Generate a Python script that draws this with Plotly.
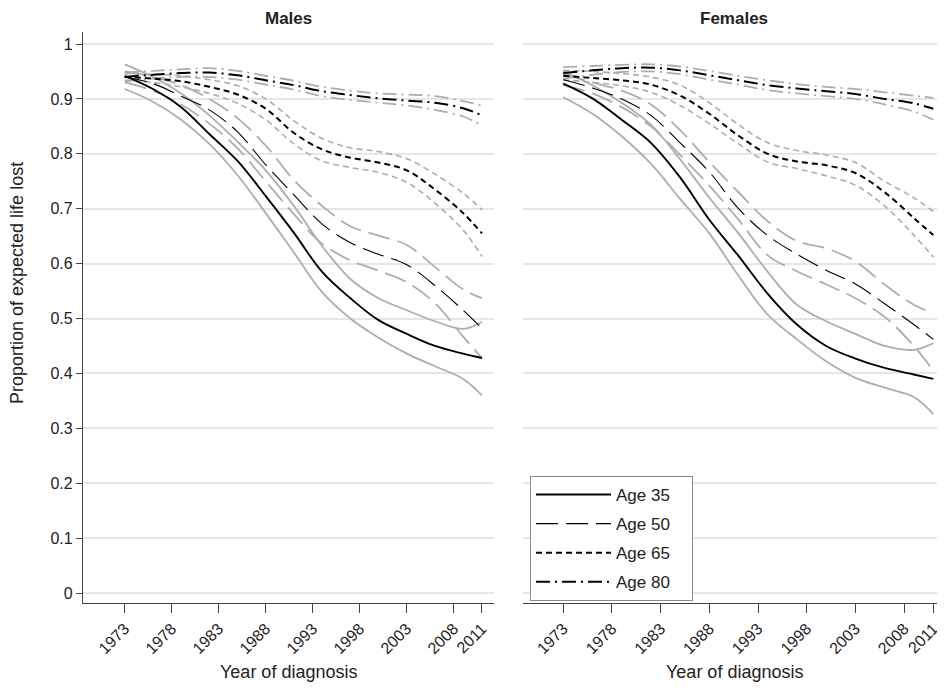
import plotly.graph_objects as go

years = [1973, 1976, 1979, 1982, 1985, 1988, 1991, 1994, 1997, 2000, 2003, 2006, 2009, 2011]
tick_years = [1973, 1978, 1983, 1988, 1993, 1998, 2003, 2008, 2011]
y_ticks = [0, 0.1, 0.2, 0.3, 0.4, 0.5, 0.6, 0.7, 0.8, 0.9, 1]
y_tick_text = ["0", "0.1", "0.2", "0.3", "0.4", "0.5", "0.6", "0.7", "0.8", "0.9", "1"]
ages = ["Age 35", "Age 50", "Age 65", "Age 80"]
panels = ["Males", "Females"]

# Males
m35 = [0.942, 0.918, 0.885, 0.836, 0.787, 0.723, 0.656, 0.585, 0.537, 0.497, 0.472, 0.45, 0.436, 0.428]
m35_lo = [0.918, 0.895, 0.862, 0.818, 0.761, 0.692, 0.62, 0.548, 0.5, 0.465, 0.436, 0.413, 0.39, 0.36]
m35_hi = [0.963, 0.94, 0.91, 0.87, 0.822, 0.77, 0.705, 0.632, 0.572, 0.537, 0.515, 0.495, 0.481, 0.494]
m50 = [0.94, 0.928, 0.905, 0.88, 0.84, 0.78, 0.725, 0.672, 0.638, 0.617, 0.598, 0.56, 0.515, 0.482]
m50_hi = [0.95, 0.94, 0.925, 0.90, 0.865, 0.815, 0.752, 0.705, 0.668, 0.651, 0.634, 0.594, 0.553, 0.537]
m50_lo = [0.93, 0.915, 0.89, 0.855, 0.81, 0.75, 0.69, 0.636, 0.606, 0.587, 0.566, 0.528, 0.467, 0.428]
m65 = [0.94, 0.937, 0.932, 0.922, 0.908, 0.882, 0.838, 0.808, 0.793, 0.784, 0.77, 0.735, 0.692, 0.655]
m65_hi = [0.946, 0.945, 0.942, 0.935, 0.924, 0.9, 0.86, 0.828, 0.811, 0.804, 0.791, 0.763, 0.728, 0.698]
m65_lo = [0.934, 0.93, 0.922, 0.91, 0.892, 0.862, 0.818, 0.787, 0.775, 0.766, 0.748, 0.71, 0.661, 0.613]
m80 = [0.94, 0.944, 0.947, 0.948, 0.943, 0.934, 0.925, 0.914, 0.907, 0.901, 0.897, 0.893, 0.883, 0.87]
m80_hi = [0.948, 0.951, 0.954, 0.956, 0.951, 0.942, 0.933, 0.922, 0.915, 0.91, 0.908, 0.905, 0.896, 0.888]
m80_lo = [0.932, 0.937, 0.94, 0.94, 0.935, 0.926, 0.917, 0.905, 0.898, 0.893, 0.888, 0.88, 0.868, 0.852]

# Females
f35 = [0.928, 0.901, 0.862, 0.82, 0.757, 0.68, 0.614, 0.545, 0.489, 0.45, 0.427, 0.41, 0.398, 0.39]
f35_lo = [0.903, 0.873, 0.832, 0.782, 0.718, 0.655, 0.578, 0.507, 0.462, 0.422, 0.392, 0.374, 0.357, 0.326]
f35_hi = [0.95, 0.925, 0.893, 0.853, 0.79, 0.72, 0.655, 0.585, 0.525, 0.495, 0.472, 0.45, 0.443, 0.455]
f50 = [0.935, 0.92, 0.9, 0.87, 0.82, 0.767, 0.70, 0.651, 0.617, 0.588, 0.563, 0.527, 0.489, 0.462]
f50_hi = [0.945, 0.93, 0.915, 0.89, 0.843, 0.785, 0.73, 0.677, 0.641, 0.628, 0.604, 0.562, 0.525, 0.51]
f50_lo = [0.925, 0.91, 0.885, 0.85, 0.798, 0.742, 0.68, 0.615, 0.586, 0.562, 0.537, 0.503, 0.45, 0.405]
f65 = [0.942, 0.938, 0.934, 0.926, 0.906, 0.873, 0.833, 0.8, 0.786, 0.779, 0.765, 0.73, 0.683, 0.652]
f65_hi = [0.952, 0.95, 0.946, 0.94, 0.925, 0.893, 0.853, 0.82, 0.806, 0.798, 0.784, 0.75, 0.72, 0.695]
f65_lo = [0.935, 0.93, 0.924, 0.912, 0.888, 0.855, 0.818, 0.785, 0.773, 0.76, 0.743, 0.705, 0.652, 0.612]
f80 = [0.947, 0.952, 0.956, 0.957, 0.952, 0.943, 0.934, 0.925, 0.919, 0.914, 0.909, 0.9, 0.892, 0.882]
f80_hi = [0.958, 0.96, 0.962, 0.963, 0.959, 0.951, 0.942, 0.934, 0.927, 0.922, 0.918, 0.912, 0.906, 0.902]
f80_lo = [0.937, 0.944, 0.949, 0.95, 0.945, 0.935, 0.926, 0.916, 0.91, 0.905, 0.9, 0.89, 0.877, 0.862]

data = {
    "Males": {"Age 35": (m35, m35_lo, m35_hi), "Age 50": (m50, m50_lo, m50_hi),
              "Age 65": (m65, m65_lo, m65_hi), "Age 80": (m80, m80_lo, m80_hi)},
    "Females": {"Age 35": (f35, f35_lo, f35_hi), "Age 50": (f50, f50_lo, f50_hi),
                "Age 65": (f65, f65_lo, f65_hi), "Age 80": (f80, f80_lo, f80_hi)},
}

styles = {
    "Age 35": dict(dash="solid", bw=1.9, gw=1.8),
    "Age 50": dict(dash="22px,8px", bw=1.1, gw=1.8),
    "Age 65": dict(dash="6px,4px", bw=2.0, gw=1.6),
    "Age 80": dict(dash="14px,5px,2px,5px", bw=2.0, gw=1.8),
}
GREY = "#adadad"
FONT = "Liberation Sans, Arial, sans-serif"

fig = go.Figure()
for pi, panel in enumerate(panels):
    xa = "x" if pi == 0 else "x2"
    ya = "y" if pi == 0 else "y2"
    for age in ages:
        mid, lo, hi = data[panel][age]
        st = styles[age]
        for band in (lo, hi):
            fig.add_trace(go.Scatter(x=years, y=band, mode="lines", xaxis=xa, yaxis=ya,
                                     line=dict(color=GREY, width=st["gw"], dash=st["dash"],
                                               shape="spline", smoothing=1.0),
                                     legendgroup=age, showlegend=False, hoverinfo="skip"))
    for age in ages:
        mid, lo, hi = data[panel][age]
        st = styles[age]
        fig.add_trace(go.Scatter(x=years, y=mid, mode="lines", xaxis=xa, yaxis=ya,
                                 name=age + "\u2003", legendgroup=age,
                                 line=dict(color="black", width=st["bw"], dash=st["dash"],
                                           shape="spline", smoothing=1.0),
                                 showlegend=(pi == 0)))

# page has an 8px body margin: figure coords = viewport coords - 8
OFF = 8
W, H = 945, 693
L, T = 83 - OFF, 32 - OFF
R = W - (945 - OFF)
B = H - (603 - OFF)
pw = W - L - R
ph = H - T - B
d1 = (494 - 83) / pw
d2 = (523 - 83) / pw

yrange = [-0.0182, 1.0219]
common_y = dict(range=yrange, tickvals=y_ticks, showgrid=True, gridcolor="#e6e6e6", gridwidth=1.5,
                zeroline=False, fixedrange=True, automargin=False)
common_x = dict(tickvals=tick_years, ticktext=[str(t) for t in tick_years], tickangle=-45,
                ticks="outside", ticklen=9, tickwidth=1, tickcolor="#444",
                showline=True, linecolor="#444", linewidth=1.2, showgrid=False, zeroline=False,
                automargin=False, tickfont=dict(family=FONT, size=16, color="#222"))

fig.update_layout(
    width=W, height=H, margin=dict(l=L, r=R, t=T, b=B),
    paper_bgcolor="white", plot_bgcolor="white",
    font=dict(family=FONT, size=16, color="#222"),
    xaxis=dict(domain=[0, d1], range=[1968.56, 2012.28], **common_x),
    xaxis2=dict(domain=[d2, 1], range=[1968.87, 2012.2], **common_x),
    yaxis=dict(ticktext=y_tick_text, ticks="outside", ticklen=6, tickcolor="#444",
               showline=True, linecolor="#444", linewidth=1.2,
               tickfont=dict(family=FONT, size=16, color="#222"), **common_y),
    yaxis2=dict(anchor="x2", showticklabels=False, showline=False, ticks="", **common_y),
    legend=dict(x=(530 - 83) / pw, y=(603 - 476) / ph, xanchor="left", yanchor="top",
                bordercolor="#888", borderwidth=1, bgcolor="white",
                font=dict(family=FONT, size=17, color="#222"), tracegroupgap=4,
                itemwidth=75, traceorder="grouped"),
    showlegend=True,
)

ann = []
def add_ann(text, vx, vy, size, angle=0):
    # vx, vy in viewport pixels
    ann.append(dict(text=text, x=(vx - 83) / pw, y=(603 - vy) / ph, xref="paper", yref="paper",
                    showarrow=False, textangle=angle, font=dict(family=FONT, size=size, color="#222"),
                    xanchor="center", yanchor="middle"))

for pi, panel in enumerate(panels):
    cx = (83 + 494) / 2 if pi == 0 else (523 + 945) / 2
    add_ann("<b>%s</b>" % panel, cx, 18, 17)
    add_ann("Year of diagnosis", cx, 672, 18)
add_ann("Proportion of expected life lost", 17, 283, 18, -90)
fig.update_layout(annotations=ann)

fig.write_html("out.html")
